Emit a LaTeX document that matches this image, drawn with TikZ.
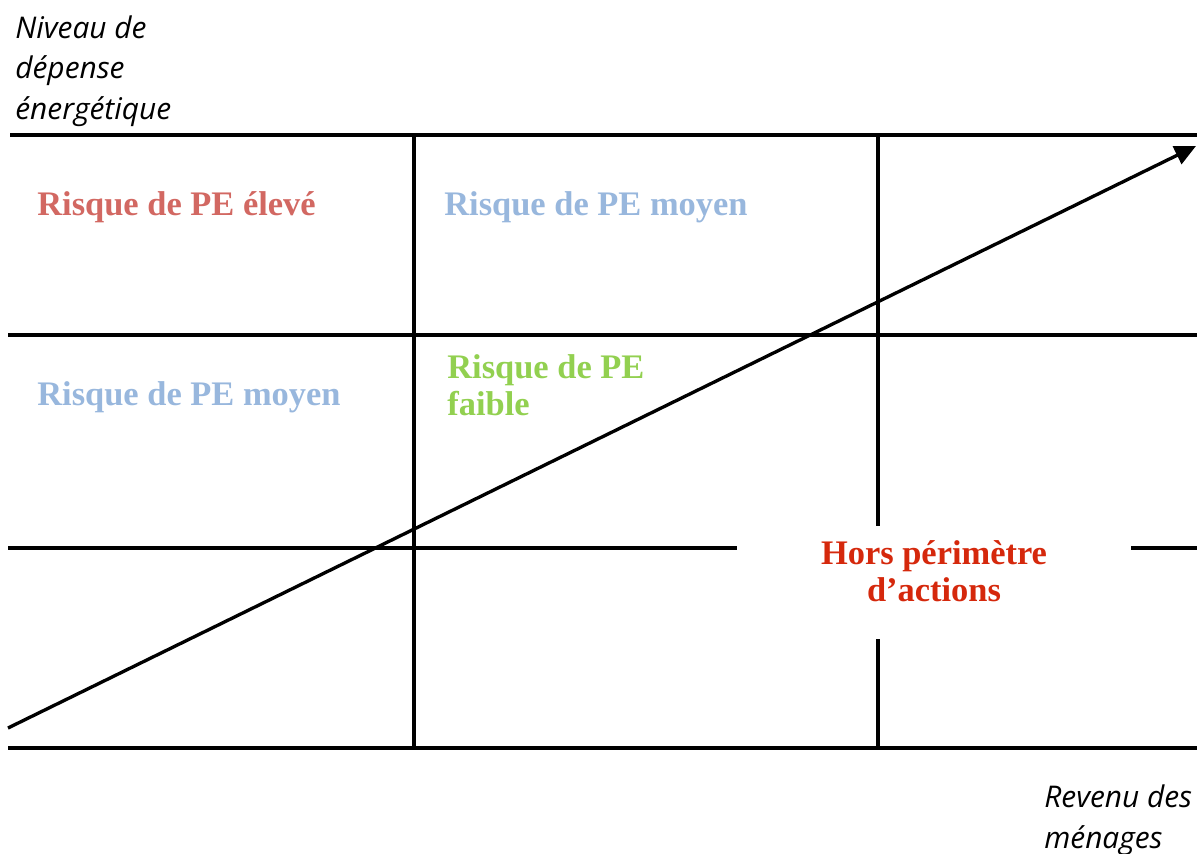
\documentclass[tikz,border=0pt]{standalone}
\usepackage{fontspec}
\setmainfont{Liberation Serif}
\newfontfamily\axisfont{Open Sans}
\usetikzlibrary{arrows.meta}
\definecolor{riskhigh}{RGB}{210,104,98}
\definecolor{riskmid}{RGB}{152,183,221}
\definecolor{risklow}{RGB}{146,208,80}
\definecolor{outside}{RGB}{213,40,12}

\begin{document}
\begin{tikzpicture}[x=0.02cm, y=-0.02cm,
        grid/.style={line width=1.9pt},
        zone/.style={font=\fontsize{19.6}{21}\selectfont\bfseries, align=left, inner sep=0pt},
        axislabel/.style={font=\axisfont\itshape\fontsize{17}{22.8}\selectfont, align=left, inner sep=0pt}]
        \useasboundingbox (0,0) rectangle (1197,853);

        \coordinate (T1) at (10,135);
        \coordinate (T2) at (1197,135);
        \coordinate (M1) at (8,335);
        \coordinate (M2) at (1197,335);
        \coordinate (L1) at (8,548);
        \coordinate (L2) at (737,548);
        \coordinate (L3) at (1131,548);
        \coordinate (L4) at (1197,548);
        \coordinate (B1) at (8,748);
        \coordinate (B2) at (1197,748);
        \coordinate (V1) at (414,135);
        \coordinate (V2) at (414,750);
        \coordinate (W1) at (878,135);
        \coordinate (W2) at (878,526);
        \coordinate (W3) at (878,639);
        \coordinate (W4) at (878,750);
        \coordinate (S) at (8,728);
        \coordinate (E) at (1196,146);

        \draw[grid] (T1) -- (T2);
        \draw[grid] (M1) -- (M2);
        \draw[grid] (L1) -- (L2);
        \draw[grid] (L3) -- (L4);
        \draw[grid] (B1) -- (B2);
        \draw[grid] (V1) -- (V2);
        \draw[grid] (W1) -- (W2);
        \draw[grid] (W3) -- (W4);
        \draw[grid, -{Triangle[length=12pt,width=11pt]}] (S) -- (E);

        \node[axislabel, anchor=base west] (ylab) at (15,119) {Niveau de\\dépense\\énergétique};
        \node[axislabel, anchor=base west] (xlab) at (1044,848) {Revenu des\\ménages};

        \node[zone, text=riskhigh, anchor=base west] (high) at (37,215) {Risque de PE élevé};
        \node[zone, text=riskmid, anchor=base west] (midtop) at (444,215) {Risque de PE moyen};
        \node[zone, text=riskmid, anchor=base west] (midleft) at (37,405) {Risque de PE moyen};
        \node[zone, text=risklow, anchor=base west] (low) at (447,415) {Risque de PE\\faible};
        \node[zone, text=outside, align=center, anchor=base] (out) at (934,601) {Hors périmètre\\d’actions};
\end{tikzpicture}
\end{document}
